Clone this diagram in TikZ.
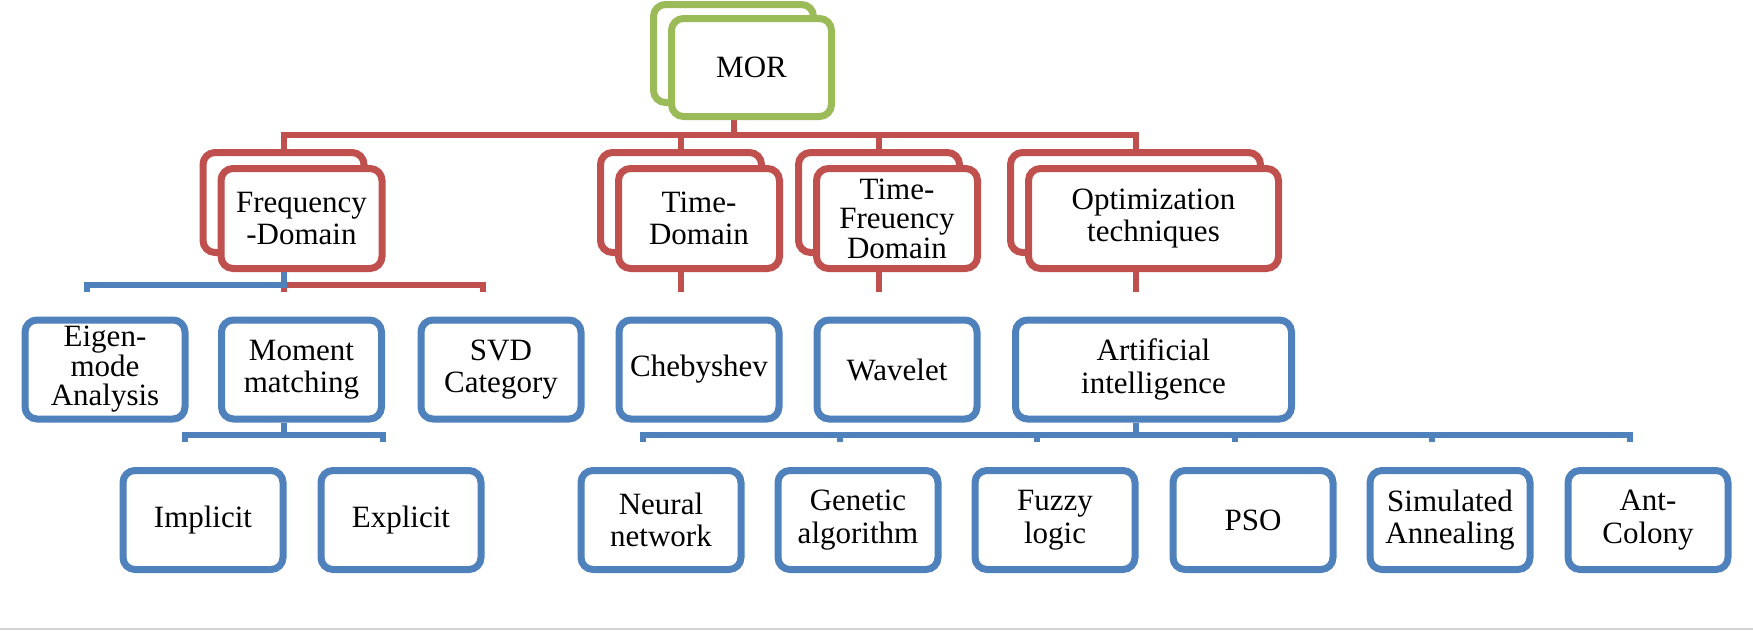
\documentclass[tikz,border=0pt]{standalone}
\usepackage{fontspec}
\setmainfont{Liberation Serif}
\usetikzlibrary{backgrounds}

\definecolor{morgreen}{HTML}{9BBB59}
\definecolor{morred}{HTML}{C0504D}
\definecolor{morblue}{HTML}{4F81BD}

\tikzset{
  box/.style={rectangle, rounded corners=12pt, line width=7pt, fill=white, draw,
    align=center, inner sep=0pt, minimum width=160pt, minimum height=99pt,
    font=\fontsize{31}{32.5}\selectfont},
  root_box/.style={box, draw=morgreen, minimum height=98pt},
  cat_box/.style={box, draw=morred, minimum height=100pt},
  leaf_box/.style={box, draw=morblue},
  red_link/.style={morred, line width=6pt},
  blue_link/.style={morblue, line width=6pt},
}

\begin{document}
\begin{tikzpicture}[x=1pt, y=-1pt]
  \useasboundingbox (0,0) rectangle (1753,630);

  \coordinate (bus_top) at (0,135);
  \coordinate (bus_mid) at (0,285);
  \coordinate (bus_low) at (0,435);

  % root
  \node[root_box] (backmor) at (733.5,53.5) {};
  \node[root_box] (mor) at (751.5,67.5) {MOR};

  % domains (stacked boxes)
  \foreach \name/\x/\w/\txt in {
      freq/301.5/161/{Frequency\\-Domain},
      timed/699/161/{Time-\\Domain},
      timef/897/161/{Time-\\[-3pt]Freuency\\[-3pt]Domain},
      optim/1153.5/250/{Optimization\\techniques}}
  {
    \node[cat_box, minimum width=\w pt] (back\name) at (\x-18,202.5) {};
    \node[cat_box, minimum width=\w pt] (\name) at (\x,218.5) {\txt};
  }

  % methods
  \foreach \name/\x/\w/\txt in {
      eigen/105/160/{Eigen-\\[-3pt]mode\\[-3pt]Analysis},
      moment/301.5/160/{Moment\\matching},
      svd/501/160/{SVD\\Category},
      cheb/699/160/{Chebyshev},
      wavelet/897/160/{Wavelet},
      ai/1153.5/276/{Artificial\\intelligence}}
  {
    \node[leaf_box, minimum width=\w pt] (\name) at (\x,369.5) {\txt};
    \coordinate (tip\name) at ([xshift=-18pt,yshift=25pt]\name.north);
  }

  % sub-methods
  \foreach \name/\x/\txt in {
      implicit/203/{Implicit}, explicit/401/{Explicit},
      neural/661/{Neural\\network}, genetic/858/{Genetic\\algorithm},
      fuzzy/1055/{Fuzzy\\logic}, pso/1253/{PSO},
      annealing/1450/{Simulated\\Annealing}, colony/1648/{Ant-\\Colony}}
  {
    \node[leaf_box] (\name) at (\x,520) {\txt};
    \coordinate (tip\name) at ([xshift=-18pt,yshift=25pt]\name.north);
  }

  \begin{scope}[on background layer]
    \foreach \name in {freq,timed,timef,optim}
      \draw[red_link] (mor.south -| backmor) |- (bus_top -| back\name) -- (back\name.north);

    \draw[red_link] (freq.south -| backfreq) -- (tipmoment);
    \draw[red_link] (freq.south -| backfreq) |- (bus_mid -| tipsvd) -- (tipsvd);
    \draw[blue_link] (freq.south -| backfreq) |- (bus_mid -| tipeigen) -- (tipeigen);
    \draw[red_link] (timed.south -| backtimed) -- (tipcheb);
    \draw[red_link] (timef.south -| backtimef) -- (tipwavelet);
    \draw[red_link] (optim.south -| backoptim) -- (tipai);

    \foreach \leaf in {implicit,explicit}
      \draw[blue_link] ([xshift=-18pt]moment.south) |- (bus_low -| tip\leaf) -- (tip\leaf);
    \foreach \leaf in {neural,genetic,fuzzy,pso,annealing,colony}
      \draw[blue_link] ([xshift=-18pt]ai.south) |- (bus_low -| tip\leaf) -- (tip\leaf);
  \end{scope}

  \draw[gray!35, line width=1.5pt] (0,629) -- (1753,629);
\end{tikzpicture}
\end{document}
